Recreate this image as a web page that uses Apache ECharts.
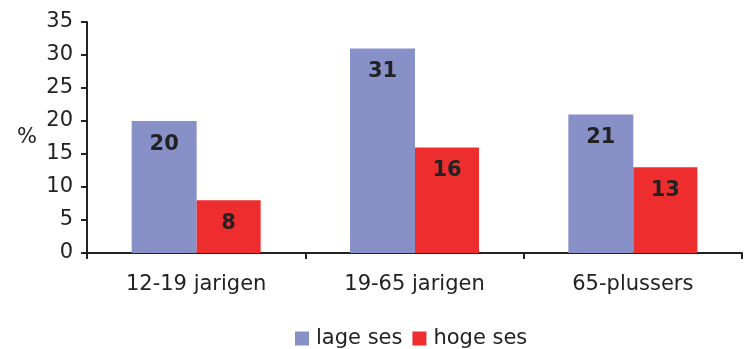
<!DOCTYPE html>
<html>
<head>
<meta charset="utf-8">
<script src="https://cdn.jsdelivr.net/npm/echarts@6/dist/echarts.min.js"></script>
<style>
  html, body { margin: 0; padding: 0; background: #fff; }
  #chart { width: 744px; height: 349px; }
</style>
</head>
<body>
<div id="chart"></div>
<script>
// Age groups and share (%) per socio-economic status
const categories = ['12-19 jarigen', '19-65 jarigen', '65-plussers'];
const lageSes = [20, 31, 21];
const hogeSes = [8, 16, 13];
const seriesNames = ['lage ses', 'hoge ses'];

const font = 'DejaVu Sans';
const chart = echarts.init(document.getElementById('chart'));

const labelStyle = {
  show: true,
  position: 'insideTop',
  distance: 13,
  color: '#222',
  fontFamily: font,
  fontWeight: 'bold',
  fontSize: 21
};

chart.setOption({
  animation: false,
  textStyle: { fontFamily: font },
  grid: { left: 87, right: 2, top: 22, bottom: 96 },
  legend: {
    top: 323,
    left: 290,
    itemWidth: 14,
    itemHeight: 14,
    itemGap: 10,
    icon: 'rect',
    textStyle: { fontFamily: font, fontSize: 21, color: '#222', padding: [0, 0, 0, 2] },
    data: seriesNames
  },
  xAxis: {
    type: 'category',
    data: categories,
    axisLine: { lineStyle: { color: '#222', width: 2 } },
    axisTick: { show: true, length: 6, lineStyle: { color: '#222', width: 2 } },
    axisLabel: { color: '#222', fontSize: 21, margin: 21, fontFamily: font }
  },
  yAxis: {
    type: 'value',
    min: 0,
    max: 35,
    interval: 5,
    name: '%',
    nameLocation: 'middle',
    nameRotate: 0,
    nameGap: 50,
    nameTextStyle: { color: '#222', fontSize: 21, fontFamily: font },
    axisLine: { show: true, lineStyle: { color: '#222', width: 2 } },
    axisTick: { show: true, length: 6, lineStyle: { color: '#222', width: 2 } },
    splitLine: { show: false },
    axisLabel: { color: '#222', fontSize: 21, margin: 14, fontFamily: font }
  },
  series: [
    {
      name: seriesNames[0],
      type: 'bar',
      data: lageSes,
      barWidth: 65,
      barGap: '0%',
      itemStyle: { color: '#8890C8' },
      label: labelStyle
    },
    {
      name: seriesNames[1],
      type: 'bar',
      data: hogeSes,
      barWidth: 64,
      barGap: '0%',
      itemStyle: { color: '#EE2E2E' },
      label: labelStyle
    }
  ]
});
</script>
</body>
</html>
